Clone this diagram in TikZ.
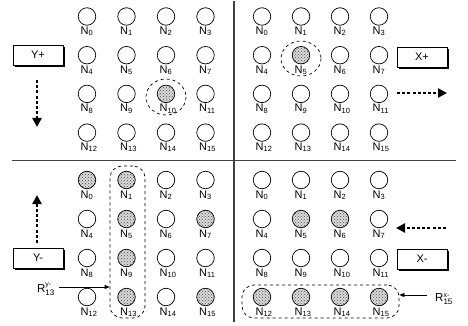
\documentclass[tikz,border=0pt]{standalone}
\usepackage{fontspec}
\setmainfont{Liberation Sans}
\usetikzlibrary{arrows.meta,patterns,shadows}
\newcommand{\nlab}[1]{N\raisebox{-1.2pt}{\fontsize{7.5}{8}\selectfont #1}}
\newcommand{\rlab}[2]{R$^{\hbox{\fontsize{7}{7}\selectfont #1}}_{\hbox{\fontsize{8}{8}\selectfont #2}}$}
\begin{document}
\begin{tikzpicture}[x=1pt,y=-1pt,
  pe/.style={circle,draw,line width=0.7pt,minimum size=17.5pt,inner sep=0pt},
  pefull/.style={pe,preaction={fill=gray!30},pattern=crosshatch dots,pattern color=black!70},
  plab/.style={anchor=north west,inner sep=0pt,font=\fontsize{11}{11}\selectfont},
  dirbox/.style={draw,line width=0.8pt,fill=white,minimum width=50pt,minimum height=20pt,inner sep=0pt,
    font=\fontsize{11}{11}\selectfont,drop shadow={opacity=1,fill=black,shadow xshift=2pt,shadow yshift=-2pt}},
  flow/.style={line width=2.6pt,dash pattern=on 3pt off 2.2pt,-{Triangle[width=9pt,length=9pt]}},
  grp/.style={draw,dashed,line width=0.7pt,inner sep=0pt},
  pointer/.style={line width=0.7pt,-{Triangle[width=4pt,length=5pt]}},
  divider/.style={line width=1.1pt,draw=black!75}]
\useasboundingbox (0,0) rectangle (468,326);
% dividers
\draw[divider] (234,1) -- (234,322);
\draw[divider] (12,160.5) -- (456,160.5);
% grids
\foreach \q/\xo/\dx/\yo/\dy/\full in {%
  tl/87/39.5/16.5/38.7/{10},
  tr/262/39/16.5/38.7/{5},
  bl/87/39.5/180/39/{0,1,5,9,13,7,15},
  br/262/39/180/39/{5,6,12,13,14,15}}{
  \foreach \k in {0,...,15}{
    \pgfmathtruncatemacro{\c}{mod(\k,4)}
    \pgfmathtruncatemacro{\r}{div(\k,4)}
    \def\st{pe}
    \foreach \f in \full {\ifnum\f=\k\relax\global\def\gst{pefull}\fi}
    \ifdefined\gst\let\st\gst\global\let\gst\undefined\fi
    \node[\st] (\q\k) at ({\xo+\c*\dx},{\yo+\r*\dy}) {};
    \node[plab] (\q\k l) at ({\xo+\c*\dx-6.5},{\yo+\r*\dy+10.3}) {\nlab{\k}};
  }
}
% selections
\draw[grp] (166,97) ellipse [x radius=20, y radius=18];
\draw[grp] (301,58.5) ellipse [x radius=20, y radius=17.5];
\node[grp,rounded corners=12pt,minimum width=35pt,minimum height=152pt] (colbox) at (127.5,242) {};
\node[grp,rounded corners=12pt,minimum width=157pt,minimum height=33pt] (rowbox) at (320.5,301.5) {};
% direction boxes
\node[dirbox] (yp) at (38,55) {Y+};
\node[dirbox] (xp) at (422,57) {X+};
\node[dirbox] (ym) at (38,258) {Y-};
\node[dirbox] (xm) at (422,259) {X-};
% flow arrows
\coordinate (ypa) at (37,80); \coordinate (ypb) at (37,127);
\coordinate (xpa) at (397,93); \coordinate (xpb) at (447,93);
\coordinate (yma) at (37,243); \coordinate (ymb) at (37,195);
\coordinate (xma) at (446,228); \coordinate (xmb) at (396,228);
\draw[flow] (ypa) -- (ypb);
\draw[flow] (xpa) -- (xpb);
\draw[flow] (yma) -- (ymb);
\draw[flow] (xma) -- (xmb);
% R labels
\node[inner sep=0pt,anchor=east,font=\fontsize{11.5}{12}\selectfont] (ry) at (55,289) {\rlab{y-}{13}};
\draw[pointer] (ry.east) ++(4,-2) coordinate (rya) (rya) -- (colbox.west |- rya);
\node[inner sep=0pt,anchor=west,font=\fontsize{11.5}{12}\selectfont] (rx) at (435,299) {\rlab{x-}{15}};
\coordinate (rxa) at (427,295);
\draw[pointer] (rxa) -- (rowbox.east |- rxa);
\end{tikzpicture}
\end{document}
